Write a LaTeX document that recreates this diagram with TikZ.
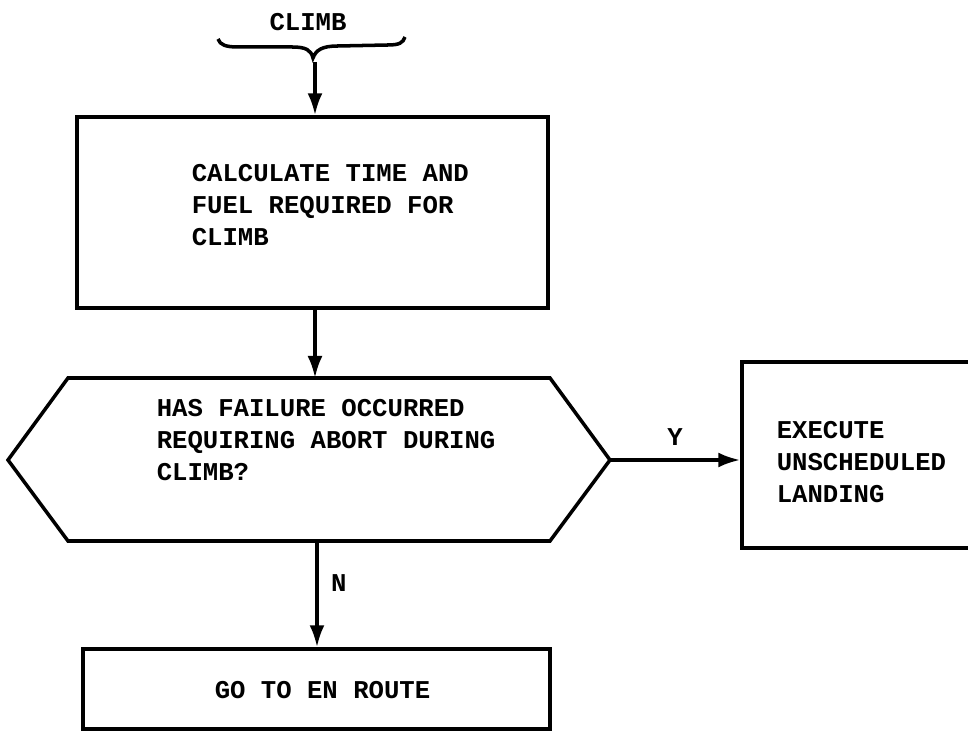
\documentclass[tikz,border=0pt]{standalone}
\usepackage{fontspec}
\setmonofont{Liberation Mono}
\usetikzlibrary{arrows.meta,positioning,calc}

\begin{document}
\begin{tikzpicture}[x=0.02cm,y=-0.02cm,>={Latex[length=0.44cm,width=0.3cm]},
 line width=2pt,
 box/.style={draw,inner sep=0pt},
 txt/.style={font=\ttfamily\bfseries\fontsize{14.6}{18.2}\selectfont,align=left,inner sep=0pt},
 lbl/.style={font=\ttfamily\bfseries\fontsize{14.6}{18.2}\selectfont,inner sep=1pt}]
 \useasboundingbox (0,0) rectangle (968,732);
 % entry brace
 \node[lbl] (climb) at (308,22) {CLIMB};
 \draw (218,39) .. controls (220,45) and (226,47) .. (238,47) -- (292,47)
  .. controls (306,47) and (311,50) .. (313,58) .. controls (316,50) and (322,46) .. (338,46)
  -- (388,45) .. controls (399,45) and (403,43) .. (405,37);
 \coordinate (tip) at (315,62);
 % boxes
 \node[box,minimum width=9.42cm,minimum height=3.82cm] (calc) at (312.5,212.5) {};
 \node[txt,anchor=north west] (calctxt) at (190,163) {CALCULATE TIME AND\\FUEL REQUIRED FOR\\CLIMB};
 \node[box,minimum width=4.66cm,minimum height=3.72cm] (land) at (858.5,455) {};
 \node[txt,anchor=north west] (landtxt) at (775,420) {EXECUTE\\UNSCHEDULED\\LANDING};
 \node[box,minimum width=9.34cm,minimum height=1.6cm] (enroute) at (316.5,689) {};
 \node[txt,anchor=west] (enroutetxt) at (213,690) {GO TO EN ROUTE};
 % decision
 \draw (68,378) -- (550,378) -- (610,460) -- (550,541) -- (68,541) -- (8,460) -- cycle;
 \coordinate (dtop) at (315,378);
 \coordinate (dright) at (610,460);
 \coordinate (dbot) at (317,541);
 \node[txt,anchor=north west] (abort) at (155,398) {HAS FAILURE OCCURRED\\REQUIRING ABORT DURING\\CLIMB?};
 % flow
 \draw[->] (tip) -- (tip |- calc.north);
 \draw[->] (dtop |- calc.south) -- (dtop);
 \draw[->] (dright) -- (land.west |- dright) node[lbl,midway,above=6pt] {Y};
 \draw[->] (dbot) -- (dbot |- enroute.north) node[lbl,pos=0.4,right=6pt] {N};
\end{tikzpicture}
\end{document}
